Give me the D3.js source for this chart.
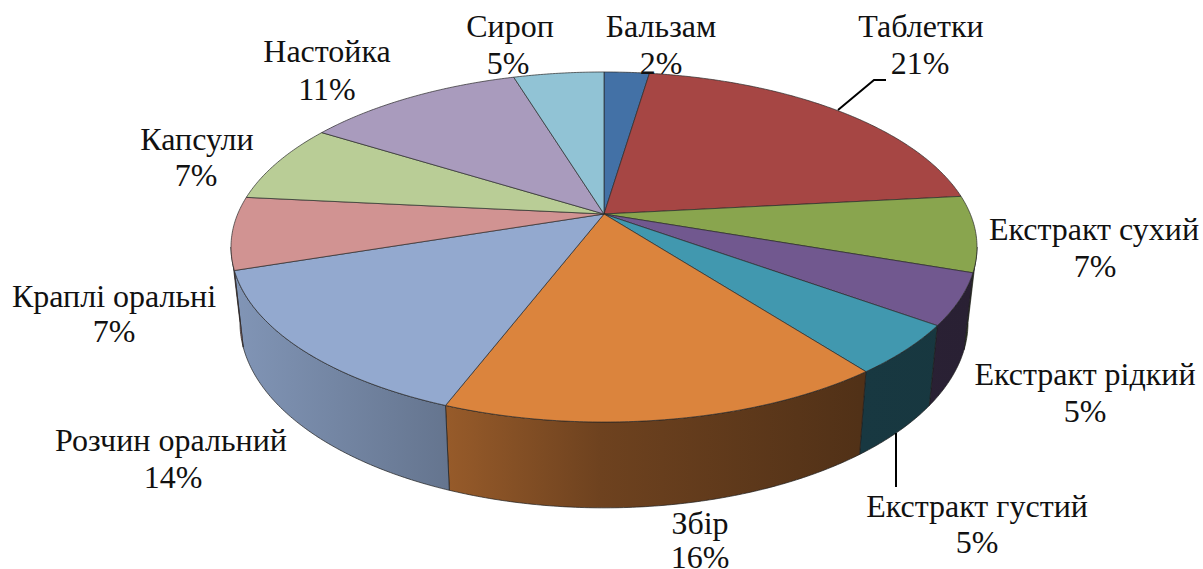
<!DOCTYPE html>
<html>
<head>
<meta charset="utf-8">
<script src="https://cdn.jsdelivr.net/npm/d3@7"></script>
<style>
  html, body { margin: 0; padding: 0; background: #fff; overflow: hidden; }
  text { font-family: "Liberation Serif", serif; font-size: 32px; fill: #111; }
</style>
</head>
<body>
<div id="chart"></div>
<script>
// Slice data, clockwise from 12 o'clock
const categories = ['Бальзам', 'Таблетки', 'Екстракт сухий', 'Екстракт рідкий', 'Екстракт густий',
  'Збір', 'Розчин оральний', 'Краплі оральні', 'Капсули', 'Настойка', 'Сироп'];
const shares = [2.35, 20.95, 7, 4.7, 4.6, 16.2, 14.1, 6.7, 7.3, 11.4, 4.7];
const colors = ['#4371a6', '#a64644', '#89a54e', '#71588f', '#4198af', '#db843d',
  '#93a9cf', '#d19392', '#b9cd96', '#a99bbd', '#91c3d5'];

// Label placement [center x, name baseline, percent center x, percent baseline]
const labelPlaces = [
  [661, 37, 661, 74], [921, 37, 920, 74], [1094, 240, 1095, 277], [1085, 385, 1085, 422],
  [977, 517, 977, 553], [700, 534, 700, 568], [171, 451, 173, 488], [114, 307, 114, 342],
  [197, 150, 196, 186], [327, 62, 327, 100], [510, 37, 508, 74]
];

const width = 1203;
const height = 569;

// Tilted disc: unit circle goes through a perspective mapping
const cx = 604;
const cy = 214;
const persp = 0.1886;
const radiusX = 366.3;
const radiusY = 168.8;

function rim(angle) {
  const u = Math.sin(angle);
  const v = -Math.cos(angle);
  const w = 1 - persp * v;
  return [cx + radiusX * u / w, cy + radiusY * v / w];
}

// Bottom edge of the wall below a rim point
function lower(p) {
  return [cx + 0.976 * (p[0] - cx), p[1] + 80 + (p[1] - 325) * 0.06];
}

function arcPoints(a0, a1) {
  const n = Math.max(2, Math.ceil((a1 - a0) / 0.01));
  return d3.range(n + 1).map(i => rim(a0 + (a1 - a0) * i / n));
}

const line = d3.line();
const pie = d3.pie().sort(null).value(d => d);
const slices = pie(shares);
const total = d3.sum(shares);
const percent = d3.format('.0%');

const svg = d3.select('#chart').append('svg')
  .attr('width', width)
  .attr('height', height);

// Wall shading runs left to right over the whole pie
const shade = d3.scaleLinear()
  .domain([235, 446, 600, 860, 976])
  .range([0.88, 0.69, 0.5, 0.37, 0.36]);
const defs = svg.append('defs');
colors.forEach((c, i) => {
  const grad = defs.append('linearGradient')
    .attr('id', `wall${i}`)
    .attr('gradientUnits', 'userSpaceOnUse')
    .attr('x1', 235).attr('x2', 976).attr('y1', 0).attr('y2', 0);
  shade.domain().forEach(x => {
    const rgb = d3.rgb(c);
    const f = shade(x);
    grad.append('stop')
      .attr('offset', (x - 235) / (976 - 235))
      .attr('stop-color', d3.rgb(rgb.r * f, rgb.g * f, rgb.b * f).formatHex());
  });
});

// Walls: only the part of the rim that faces the viewer
const wallFrom = Math.acos(-persp);
const wallTo = 2 * Math.PI - wallFrom;
svg.append('g').selectAll('path')
  .data(slices.filter(d => d.endAngle > wallFrom && d.startAngle < wallTo))
  .enter().append('path')
  .attr('d', d => {
    const top = arcPoints(Math.max(d.startAngle, wallFrom), Math.min(d.endAngle, wallTo));
    return line(top.concat(top.map(lower).reverse())) + 'Z';
  })
  .attr('fill', d => `url(#wall${d.index})`)
  .attr('stroke', '#1c1c1c')
  .attr('stroke-width', 0.7)
  .attr('stroke-linejoin', 'round');

// Top face
svg.append('g').selectAll('path')
  .data(slices)
  .enter().append('path')
  .attr('d', d => line([[cx, cy]].concat(arcPoints(d.startAngle, d.endAngle))) + 'Z')
  .attr('fill', d => colors[d.index])
  .attr('stroke', '#2a2a2a')
  .attr('stroke-width', 0.7)
  .attr('stroke-linejoin', 'round');

// Leader lines
const leaders = [
  [[838, 110], [874, 80], [886, 80]],
  [[896, 433], [896, 487]]
];
svg.append('g').selectAll('path')
  .data(leaders)
  .enter().append('path')
  .attr('d', d => line(d))
  .attr('fill', 'none')
  .attr('stroke', '#000')
  .attr('stroke-width', 2);

// Labels
const labels = svg.append('g').selectAll('g')
  .data(slices)
  .enter().append('g')
  .attr('text-anchor', 'middle');
labels.append('text')
  .attr('x', d => labelPlaces[d.index][0])
  .attr('y', d => labelPlaces[d.index][1])
  .text(d => categories[d.index]);
labels.append('text')
  .attr('x', d => labelPlaces[d.index][2])
  .attr('y', d => labelPlaces[d.index][3])
  .text(d => percent(d.value / total));
</script>
</body>
</html>
